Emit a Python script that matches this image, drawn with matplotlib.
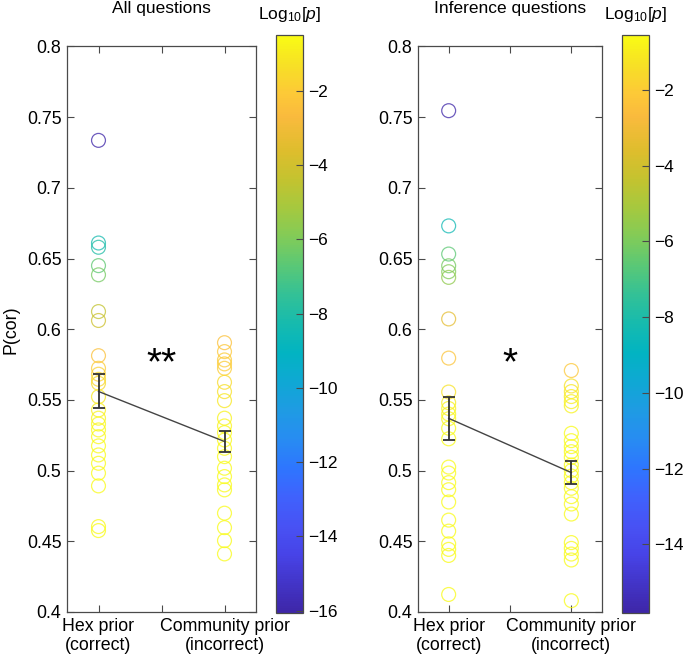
import numpy as np
import matplotlib
matplotlib.use('Agg')
import matplotlib.pyplot as plt
from matplotlib.colors import LinearSegmentedColormap, Normalize
from matplotlib.cm import ScalarMappable

plt.rcParams['font.family'] = 'Liberation Sans'
plt.rcParams['font.size'] = 12.5
plt.rcParams['mathtext.fontset'] = 'custom'
plt.rcParams['mathtext.rm'] = 'Liberation Sans'
plt.rcParams['mathtext.it'] = 'Liberation Sans:italic'

# data
# All questions
all_hex = [0.7336, 0.661, 0.658, 0.645, 0.6385, 0.6125, 0.6062, 0.5813, 0.5724,
           0.5682, 0.5646, 0.5618, 0.5523, 0.5429, 0.5371, 0.533, 0.5288, 0.524,
           0.5175, 0.5111, 0.5052, 0.4982, 0.4892, 0.4604, 0.4576]
all_hex_logp = [-16.05, -8.3, -8.0, -6.6, -6.2, -4.4, -4.1, -2.4, -2.0,
                -1.8, -1.6, -1.5, -1.1, -0.9, -0.8, -0.6, -0.6, -0.6,
                -0.5, -0.5, -0.5, -0.5, -0.5, -0.5, -0.5]
all_com = [0.5905, 0.5842, 0.5783, 0.5755, 0.5724, 0.5625, 0.5559, 0.5495, 0.5371,
           0.5316, 0.5269, 0.5217, 0.5158, 0.5099, 0.5017, 0.4958, 0.4899, 0.4864,
           0.4699, 0.4597, 0.4505, 0.4411]
all_com_logp = [-2.4, -2.2, -2.0, -2.0, -1.9, -1.5, -1.3, -1.1, -0.8,
                -0.7, -0.6, -0.6, -0.6, -0.5, -0.5, -0.5, -0.5, -0.5,
                -0.5, -0.5, -0.5, -0.5]
all_means = [0.556, 0.5206]
all_sems = [0.012, 0.0075]

# Inference questions
inf_hex = [0.7546, 0.6731, 0.6532, 0.6449, 0.6407, 0.6367, 0.6073, 0.5796, 0.5556,
           0.548, 0.544, 0.540, 0.5367, 0.530, 0.5225, 0.5025, 0.4983, 0.4915,
           0.4865, 0.4778, 0.465, 0.4572, 0.4482, 0.4443, 0.440, 0.4124]
inf_hex_logp = [-15.8, -8.4, -6.6, -6.1, -5.9, -5.6, -3.4, -2.3, -1.3,
                -1.0, -0.8, -0.7, -0.7, -0.6, -0.6, -0.6, -0.6, -0.6,
                -0.6, -0.6, -0.6, -0.6, -0.6, -0.6, -0.6, -0.6]
inf_com = [0.5708, 0.5599, 0.5559, 0.5524, 0.5488, 0.5458, 0.5264, 0.5212, 0.517,
           0.5134, 0.5094, 0.504, 0.500, 0.4962, 0.4915, 0.4875, 0.4816, 0.4764,
           0.4693, 0.4491, 0.445, 0.441, 0.4368, 0.408]
inf_com_logp = [-2.1, -1.3, -1.1, -1.0, -0.9, -0.8, -0.6, -0.6, -0.6,
                -0.6, -0.6, -0.6, -0.6, -0.6, -0.6, -0.6, -0.6, -0.6,
                -0.6, -0.6, -0.6, -0.6, -0.6, -0.6]
inf_means = [0.537, 0.4986]
inf_sems = [0.015, 0.0083]

xlabels = ['Hex prior\n(correct)', '', 'Community prior\n(incorrect)']
yticks = [0.4, 0.45, 0.5, 0.55, 0.6, 0.65, 0.7, 0.75, 0.8]
ylabels = ['0.4', '0.45', '0.5', '0.55', '0.6', '0.65', '0.7', '0.75', '0.8']

# parula-like colormap
parula = LinearSegmentedColormap.from_list('parula', [
    (0.00, (0.2422, 0.1504, 0.6603)),
    (0.10, (0.2797, 0.2653, 0.9090)),
    (0.15, (0.2810, 0.3228, 0.9579)),
    (0.20, (0.2470, 0.3848, 0.9926)),
    (0.25, (0.1802, 0.4628, 0.9978)),
    (0.30, (0.1540, 0.5500, 0.9480)),
    (0.35, (0.1200, 0.6100, 0.8900)),
    (0.40, (0.0590, 0.6600, 0.8300)),
    (0.45, (0.0060, 0.7040, 0.7600)),
    (0.50, (0.0860, 0.7320, 0.6830)),
    (0.55, (0.2000, 0.7560, 0.5900)),
    (0.60, (0.3480, 0.7840, 0.4660)),
    (0.65, (0.5050, 0.7980, 0.3480)),
    (0.70, (0.6460, 0.7870, 0.2480)),
    (0.75, (0.7650, 0.7640, 0.1870)),
    (0.80, (0.8690, 0.7430, 0.1760)),
    (0.86, (0.9800, 0.7300, 0.2400)),
    (0.90, (0.9930, 0.7870, 0.2170)),
    (0.95, (0.9680, 0.8800, 0.1460)),
    (1.00, (0.9769, 0.9839, 0.0805)),
])

W, H = 685, 657
fig = plt.figure(figsize=(W / 100, H / 100), dpi=100)

def px(x0, y0, x1, y1):
    return [x0 / W, 1 - y1 / H, (x1 - x0) / W, (y1 - y0) / H]

spine_c = '#4a4a4a'

def panel(ax_rect, cax_rect, hexv, hexp, comv, comp, means, sems, clim, cticks, title, stars, ylab):
    ax = fig.add_axes(px(*ax_rect))
    cax = fig.add_axes(px(*cax_rect))
    norm = Normalize(vmin=clim[0], vmax=clim[1])

    ax.scatter(np.ones(len(hexv)), hexv, s=100, facecolors='none',
               edgecolors=parula(norm(np.array(hexp)), alpha=0.75), linewidths=0.9, zorder=2)
    ax.scatter(np.full(len(comv), 2.0), comv, s=100, facecolors='none',
               edgecolors=parula(norm(np.array(comp)), alpha=0.75), linewidths=0.9, zorder=2)
    ax.plot([1, 2], means, color='#444444', lw=1.0, zorder=3)
    ax.errorbar([1, 2], means, yerr=sems, fmt='none', ecolor='#333333',
                elinewidth=1.3, capsize=4.5, capthick=1.3, zorder=4)
    ax.text(1.5, 0.575, stars, ha='center', va='center', fontsize=28)

    ax.set_xlim(0.75, 2.25)
    ax.set_ylim(0.4, 0.8)
    ax.set_xticks([1, 1.5, 2])
    ax.set_xticklabels(xlabels)
    ax.set_yticks(yticks)
    ax.set_yticklabels(ylabels)
    ax.tick_params(direction='in', top=True, right=True, length=5, width=0.8,
                   color=spine_c, labelsize=12.8, pad=4)
    for s in ax.spines.values():
        s.set_color(spine_c)
        s.set_linewidth(0.9)
    if ylab:
        ax.set_ylabel('P(cor)', fontsize=12.8, labelpad=5)

    cb = fig.colorbar(ScalarMappable(norm=norm, cmap=parula), cax=cax)
    cb.set_ticks(cticks)
    cb.ax.tick_params(direction='in', length=5, width=0.8, color=spine_c, labelsize=12.5)
    cb.outline.set_edgecolor(spine_c)
    cb.outline.set_linewidth(0.9)

    cx = (cax_rect[0] + cax_rect[2]) / 2
    fig.text(cx / W, 1 - 14 / H, r'Log$_{10}$[$p$]', ha='center', va='center', fontsize=12.5)
    axc = (ax_rect[0] + ax_rect[2]) / 2
    fig.text(axc / W, 1 - 9 / H, title, ha='center', va='center', fontsize=12.5)
    return ax

panel((67, 46.5, 256, 612), (276, 35, 303, 612.5), all_hex, all_hex_logp, all_com, all_com_logp,
      all_means, all_sems, (-16.05, -0.5), list(range(-16, 0, 2)), 'All questions', '**', True)
panel((418, 46.5, 602, 612), (622, 35, 649, 612.5), inf_hex, inf_hex_logp, inf_com, inf_com_logp,
      inf_means, inf_sems, (-15.8, -0.55), list(range(-14, 0, 2)), 'Inference questions', '*', False)

fig.savefig('out.png', dpi=100)
